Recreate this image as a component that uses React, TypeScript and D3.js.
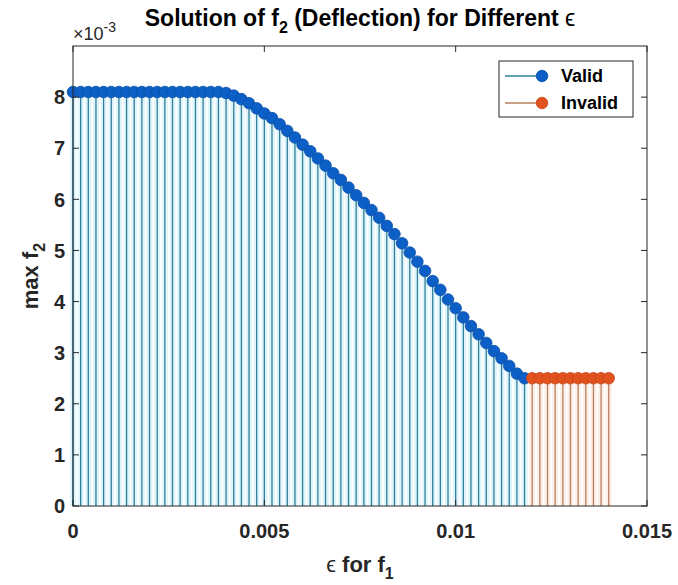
import React from 'react';
import * as d3 from 'd3';

// epsilon for f1 (valid solutions)
const epsValid = [
  0, 0.0002, 0.0004, 0.0006, 0.0008, 0.001, 0.0012, 0.0014, 0.0016, 0.0018,
  0.002, 0.0022, 0.0024, 0.0026, 0.0028, 0.003, 0.0032, 0.0034, 0.0036, 0.0038,
  0.004, 0.0042, 0.0044, 0.0046, 0.0048, 0.005, 0.0052, 0.0054, 0.0056, 0.0058,
  0.006, 0.0062, 0.0064, 0.0066, 0.0068, 0.007, 0.0072, 0.0074, 0.0076, 0.0078,
  0.008, 0.0082, 0.0084, 0.0086, 0.0088, 0.009, 0.0092, 0.0094, 0.0096, 0.0098,
  0.01, 0.0102, 0.0104, 0.0106, 0.0108, 0.011, 0.0112, 0.0114, 0.0116, 0.0118,
];
// max f2 in units of 1e-3
const f2Valid = [
  8.1, 8.1, 8.1, 8.1, 8.1, 8.1, 8.1, 8.1, 8.1, 8.1,
  8.1, 8.1, 8.1, 8.1, 8.1, 8.1, 8.1, 8.1, 8.1, 8.1,
  8.08, 8.03, 7.96, 7.88, 7.78, 7.68, 7.59, 7.47, 7.34, 7.21,
  7.07, 6.94, 6.8, 6.66, 6.51, 6.38, 6.23, 6.08, 5.93, 5.79,
  5.64, 5.48, 5.32, 5.14, 4.96, 4.78, 4.6, 4.4, 4.23, 4.04,
  3.87, 3.69, 3.52, 3.36, 3.19, 3.03, 2.89, 2.74, 2.59, 2.5,
];
const epsInvalid = [0.012, 0.0122, 0.0124, 0.0126, 0.0128, 0.013, 0.0132, 0.0134, 0.0136, 0.0138, 0.014];
const f2Invalid = [2.5, 2.5, 2.5, 2.5, 2.5, 2.5, 2.5, 2.5, 2.5, 2.5, 2.5];

const xTicks = [0, 0.005, 0.01, 0.015];
const xTickLabels = ['0', '0.005', '0.01', '0.015'];
const yTicks = [0, 1, 2, 3, 4, 5, 6, 7, 8];

const W = 678, H = 585;
const margin = { top: 46, right: 31, bottom: 79, left: 73 };
const FONT = '"Liberation Sans", Arial, Helvetica, sans-serif';
const AX = '#262626';
const BLUE = '#0b5fc6', BLUE_STEM = '#2f7f9c', BLUE_HALO = '#e0f5fb';
const RED = '#e2521f', RED_STEM = '#b9805f', RED_HALO = '#fbefe8';

export default function App() {
  const x = d3.scaleLinear().domain([0, 0.015]).range([margin.left, W - margin.right]);
  const y = d3.scaleLinear().domain([0, 9]).range([H - margin.bottom, margin.top]);
  const [x0, x1] = x.range();
  const [y0, y1] = y.range();
  const tick = 6;
  const R = 5.8;

  const valid = epsValid.map((e, i) => ({ e, v: f2Valid[i] }));
  const invalid = epsInvalid.map((e, i) => ({ e, v: f2Invalid[i] }));

  const stems = (data, halo, color) => (
    <g>
      {data.map((d, i) => (
        <line key={'h' + i} x1={x(d.e)} x2={x(d.e)} y1={y(0)} y2={y(d.v)} stroke={halo} strokeWidth={6} />
      ))}
      {data.map((d, i) => (
        <line key={'s' + i} x1={x(d.e)} x2={x(d.e)} y1={y(0)} y2={y(d.v)} stroke={color} strokeWidth={1.3} />
      ))}
    </g>
  );

  const markers = (data, fill, edge) => (
    <g>
      {data.map((d, i) => (
        <circle key={i} cx={x(d.e)} cy={y(d.v)} r={R} fill={fill} stroke={edge} strokeWidth={0.8} />
      ))}
    </g>
  );

  const lx = 499, ly = 61, lw = 134, lh = 56;

  return (
    <svg width={W} height={H} style={{ position: 'absolute', left: 0, top: 0, background: '#fff' }} fontFamily={FONT}>
      <rect x={0} y={0} width={W} height={H} fill="#fff" />
      {stems(valid, BLUE_HALO, BLUE_STEM)}
      {stems(invalid, RED_HALO, RED_STEM)}
      {markers(valid, BLUE, '#0a4fa6')}
      {markers(invalid, RED, '#c8461b')}

      {/* frame */}
      <rect x={x0} y={y1} width={x1 - x0} height={y0 - y1} fill="none" stroke={AX} strokeWidth={1} />
      {xTicks.map((t, i) => (
        <g key={'xt' + i}>
          <line x1={x(t)} x2={x(t)} y1={y0} y2={y0 - tick} stroke={AX} />
          <line x1={x(t)} x2={x(t)} y1={y1} y2={y1 + tick} stroke={AX} />
          <text x={x(t)} y={y0 + 32} textAnchor="middle" fontSize={20} fontWeight="bold" fill={AX}>{xTickLabels[i]}</text>
        </g>
      ))}
      {yTicks.map((t, i) => (
        <g key={'yt' + i}>
          <line x1={x0} x2={x0 + tick} y1={y(t)} y2={y(t)} stroke={AX} />
          <line x1={x1} x2={x1 - tick} y1={y(t)} y2={y(t)} stroke={AX} />
          <text x={x0 - 8} y={y(t)} dy="0.36em" textAnchor="end" fontSize={20} fontWeight="bold" fill={AX}>{t}</text>
        </g>
      ))}

      {/* exponent */}
      <text x={x0} y={y1 - 6} fontSize={18} fill={AX}>
        ×10<tspan dy={-8} fontSize={14}>-3</tspan>
      </text>

      {/* title */}
      <text x={(x0 + x1) / 2} y={26} textAnchor="middle" fontSize={23} fontWeight="bold" fill="#000">
        Solution of f<tspan dy={7} fontSize={16}>2</tspan><tspan dy={-7}> (Deflection) for Different </tspan>
        <tspan fontWeight="normal">ϵ</tspan>
      </text>

      {/* axis labels */}
      <text x={(x0 + x1) / 2} y={572} textAnchor="middle" fontSize={22} fontWeight="bold" fill={AX}>
        <tspan fontWeight="normal">ϵ</tspan> for f<tspan dy={7} fontSize={16}>1</tspan>
      </text>
      <text transform={`translate(38,${(y0 + y1) / 2}) rotate(-90)`} textAnchor="middle" fontSize={22} fontWeight="bold" fill={AX}>
        max f<tspan dy={7} fontSize={16}>2</tspan>
      </text>

      {/* legend */}
      <rect x={lx} y={ly} width={lw} height={lh} fill="#fff" stroke={AX} strokeWidth={1} />
      <line x1={lx + 6} x2={lx + 43} y1={ly + 15} y2={ly + 15} stroke={BLUE_STEM} strokeWidth={1.3} />
      <circle cx={lx + 43} cy={ly + 15} r={R} fill={BLUE} stroke="#0a4fa6" strokeWidth={0.8} />
      <text x={lx + 62} y={ly + 15} dy="0.36em" fontSize={18} fontWeight="bold" fill="#000">Valid</text>
      <line x1={lx + 6} x2={lx + 43} y1={ly + 42} y2={ly + 42} stroke={RED_STEM} strokeWidth={1.3} />
      <circle cx={lx + 43} cy={ly + 42} r={R} fill={RED} stroke="#c8461b" strokeWidth={0.8} />
      <text x={lx + 62} y={ly + 42} dy="0.36em" fontSize={18} fontWeight="bold" fill="#000">Invalid</text>
    </svg>
  );
}
